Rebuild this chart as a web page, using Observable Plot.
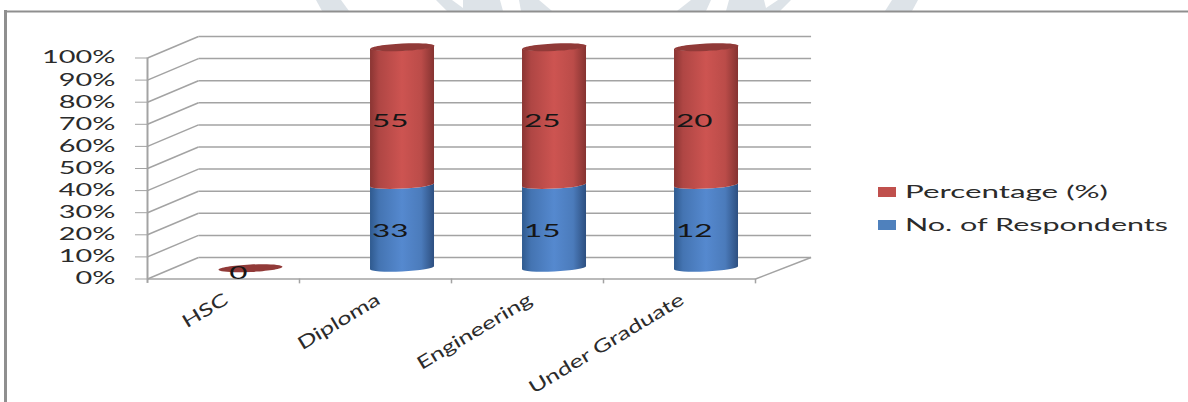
<!DOCTYPE html>
<html>
<head>
<meta charset="utf-8">
<script src="https://cdn.jsdelivr.net/npm/d3@7"></script>
<script src="https://cdn.jsdelivr.net/npm/@observablehq/plot@0.6"></script>
<style>
  html, body { margin: 0; padding: 0; background: #fff; overflow: hidden; }
  #page { position: relative; width: 1188px; height: 402px; }
  #page > svg { position: absolute; left: 0; top: 0; background: transparent; }
  #mark-bg { position: absolute; left: 0; top: 0; }
  #key { position: absolute; left: 878px; top: 175px; font-family: Lato, sans-serif; font-size: 18px; color: #2b2b2b; }
  #key div { position: absolute; white-space: nowrap; height: 33px; line-height: 33px; }
  #key i { position: absolute; left: 0; top: 12px; width: 18px; height: 10px; }
  #key span { position: absolute; left: 27px; top: 0; transform-origin: left center; }
</style>
</head>
<body>
<div id="page">
  <svg id="mark-bg" width="1188" height="12" aria-hidden="true">
    <g fill="#dde3e8">
      <polygon points="316,0 341,0 349,11 322,11"/>
      <polygon points="436,0 452,0 463,8 463,0 500,0 503,11 447,11"/>
      <polygon points="519,0 539,0 552,11 521,11"/>
      <polygon points="691,0 711,0 706,11 677,11"/>
      <polygon points="729,0 764,0 766,8 778,0 791,0 780,11 726,11"/>
      <polygon points="892,0 918,0 912,11 885,11"/>
    </g>
  </svg>
</div>
<script>
// Education level of respondents, as a 100% stacked cylinder chart.
const categories = ["HSC", "Diploma", "Engineering", "Under Graduate"];
const respondents = [0, 33, 15, 12];
const percentage = [0, 55, 25, 20];
const percentTicks = [0, .1, .2, .3, .4, .5, .6, .7, .8, .9, 1];
const seriesNames = ["Percentage (%)", "No. of Respondents"];
const seriesColors = ["#c0504d", "#4f81bd"];
const legendWidths = [203, 263];

// Oblique depth of the chart box, in scale units.
const depthX = 0.3355;
const depthY = 0.0973;
const wallOverhang = 0.03;
const cylinderHalf = 0.2105;
const gridColor = "#a3a3a3";
const textColor = "#2b2b2b";

const indices = categories.map((_, i) => i);
const share = (i) => {
  const total = respondents[i] + percentage[i];
  return total ? respondents[i] / total : 0;
};
const stackTop = (i) => (respondents[i] + percentage[i] ? 1 : 0);
const centre = (i) => i + 0.5 + depthX / 2 + 0.01;

const lower = indices.filter((i) => respondents[i] > 0).map((i) => ({
  i, value: respondents[i], y1: 0, y2: share(i)
}));
const upper = indices.filter((i) => percentage[i] > 0).map((i) => ({
  i, value: percentage[i], y1: share(i), y2: 1
}));

// Flattened, slightly tilted ellipse used for cylinder ends.
const TILT = -2.8 * Math.PI / 180;
const RY = 3.7;
const capSymbol = {
  draw(ctx, size) {
    const rx = Math.sqrt(size / Math.PI);
    const k = 0.5523;
    const pt = (x, y) => [x * Math.cos(TILT) - y * Math.sin(TILT), x * Math.sin(TILT) + y * Math.cos(TILT)];
    const c = (a, b, d, e, f, g) => ctx.bezierCurveTo(...pt(a, b), ...pt(d, e), ...pt(f, g));
    ctx.moveTo(...pt(rx, 0));
    c(rx, k * RY, k * rx, RY, 0, RY);
    c(-k * rx, RY, -rx, k * RY, -rx, 0);
    c(-rx, -k * RY, -k * rx, -RY, 0, -RY);
    c(k * rx, -RY, rx, -k * RY, rx, 0);
    ctx.closePath();
  }
};

// Turns each plain rect of a segment into a curved cylinder section.
function cylinderRender(index, scales, values, dims, context, next) {
  const g = next(index, scales, values, dims, context);
  g.querySelectorAll("rect").forEach((rect) => {
    const x = +rect.getAttribute("x"), y = +rect.getAttribute("y");
    const w = +rect.getAttribute("width"), h = +rect.getAttribute("height");
    const rx = w / 2, t = rx * Math.sin(-TILT), deg = TILT * 180 / Math.PI;
    const path = document.createElementNS("http://www.w3.org/2000/svg", "path");
    path.setAttribute("d",
      `M${x},${y + t}A${rx},${RY} ${deg} 0 0 ${x + w},${y - t}` +
      `L${x + w},${y + h - t}A${rx},${RY} ${deg} 0 1 ${x},${y + h + t}Z`);
    path.setAttribute("fill", rect.getAttribute("fill"));
    if (rect.hasAttribute("transform")) path.setAttribute("transform", rect.getAttribute("transform"));
    rect.replaceWith(path);
  });
  return g;
}

const segment = (rows, fill) => Plot.rectY(rows, {
  x1: (d) => centre(d.i) - cylinderHalf,
  x2: (d) => centre(d.i) + cylinderHalf,
  y1: (d) => d.y1 + depthY / 2,
  y2: (d) => d.y2 + depthY / 2,
  fill,
  render: cylinderRender
});

const valueLabels = (rows) => Plot.text(rows, {
  x: (d) => centre(d.i) - 0.08,
  y: (d) => (d.y1 + d.y2) / 2 + depthY / 2,
  text: (d) => String(d.value),
  dy: 5,
  fill: "#161616",
  fontSize: 17,
  fontFamily: "Lato, sans-serif",
  className: "wide-value"
});

const chart = Plot.plot({
  width: 1188,
  height: 402,
  marginLeft: 147,
  marginRight: 433,
  marginTop: 57.5,
  marginBottom: 123.5,
  style: { background: "transparent" },
  x: { domain: [0, categories.length], axis: null },
  y: { domain: [0, 1], axis: null },
  marks: [
    // Outer border of the chart area
    Plot.frame({ anchor: "top", insetTop: -46.5, insetLeft: -142, insetRight: -433, stroke: "#8f8f8f", strokeWidth: 2 }),
    Plot.frame({ anchor: "left", insetLeft: -142, insetTop: -46.5, insetBottom: -124, stroke: "#8f8f8f", strokeWidth: 3 }),

    // Back wall and side wall gridlines
    Plot.link(percentTicks, {
      x1: depthX, x2: categories.length + depthX + wallOverhang,
      y1: (d) => d + depthY, y2: (d) => d + depthY,
      stroke: gridColor, strokeWidth: 1.5
    }),
    Plot.link(percentTicks, {
      x1: 0, x2: depthX,
      y1: (d) => d, y2: (d) => d + depthY,
      stroke: gridColor, strokeWidth: 1.5
    }),

    // Floor edges
    Plot.link([0], { x1: 0, x2: categories.length, y1: 0, y2: 0, stroke: gridColor, strokeWidth: 1.5 }),
    Plot.link([0], { x1: categories.length, x2: categories.length + depthX + wallOverhang, y1: 0, y2: depthY, stroke: gridColor, strokeWidth: 1.5 }),

    // Axis line and category ticks
    Plot.ruleX([0], { y1: -0.02, y2: 1, stroke: gridColor, strokeWidth: 2 }),
    Plot.ruleX(d3.range(1, categories.length + 1), { y1: -0.022, y2: 0, stroke: gridColor, strokeWidth: 1.5 }),

    Plot.axisY(percentTicks, {
      tickFormat: d3.format(".0%"),
      tickSize: 12,
      tickPadding: 20,
      stroke: gridColor,
      fill: textColor,
      fontSize: 17,
      fontFamily: "Lato, sans-serif",
      label: null,
      className: "wide-tick"
    }),

    // Cylinders, lower series first
    segment(lower, "url(#cylBlue)"),
    segment(upper, "url(#cylRed)"),
    Plot.dot(indices, {
      x: centre,
      y: (i) => stackTop(i) + depthY / 2,
      r: 32,
      symbol: capSymbol,
      fill: "#913a38",
      stroke: "none"
    }),

    valueLabels(lower),
    valueLabels(upper),
    valueLabels(indices.filter((i) => !stackTop(i)).map((i) => ({ i, value: 0, y1: 0, y2: 0 }))),

    // Rotated category labels
    Plot.text(indices, {
      x: (i) => i + 0.5,
      y: 0,
      text: (i) => categories[i],
      rotate: -31,
      textAnchor: "end",
      lineAnchor: "middle",
      dx: 3,
      dy: 19,
      fill: textColor,
      fontSize: 18,
      fontFamily: "Lato, sans-serif",
      className: "wide-category"
    })
  ]
});

// Gradients that give the cylinders their rounded shading.
const defs = d3.select(chart).insert("defs", ":first-child");
const gradient = (id, edge, mid, edge2) => {
  const g = defs.append("linearGradient").attr("id", id).attr("x1", 0).attr("x2", 1).attr("y1", 0).attr("y2", 0);
  [[0, edge], [0.14, d3.interpolateRgb(edge, mid)(0.55)], [0.5, mid], [0.8, d3.interpolateRgb(edge2, mid)(0.75)], [1, edge2]]
    .forEach(([o, c]) => g.append("stop").attr("offset", o).attr("stop-color", c));
};
gradient("cylRed", "#8a3533", "#cd5451", "#853331");
gradient("cylBlue", "#2f5a8f", "#5589cf", "#2d4f80");

const page = document.getElementById("page");
page.appendChild(chart);

// Horizontally widened lettering, keeping each label's anchor.
const widen = (selector, factor) => {
  chart.querySelectorAll(selector).forEach((t) => {
    t.setAttribute("textLength", t.getComputedTextLength() * factor);
    t.setAttribute("lengthAdjust", "spacingAndGlyphs");
  });
};
widen(".wide-tick text", 1.7);
widen(".wide-value text", 1.85);
widen(".wide-category text", 1.4);

// Legend to the right of the plot
const key = d3.select(page).append("div").attr("id", "key");
seriesNames.forEach((name, i) => {
  const row = key.append("div").style("top", `${i * 33}px`);
  row.append("i").style("background", seriesColors[i]);
  const label = row.append("span").text(name);
  const w = label.node().getBoundingClientRect().width;
  label.style("transform", `scaleX(${legendWidths[i] / w})`);
});
</script>
</body>
</html>
